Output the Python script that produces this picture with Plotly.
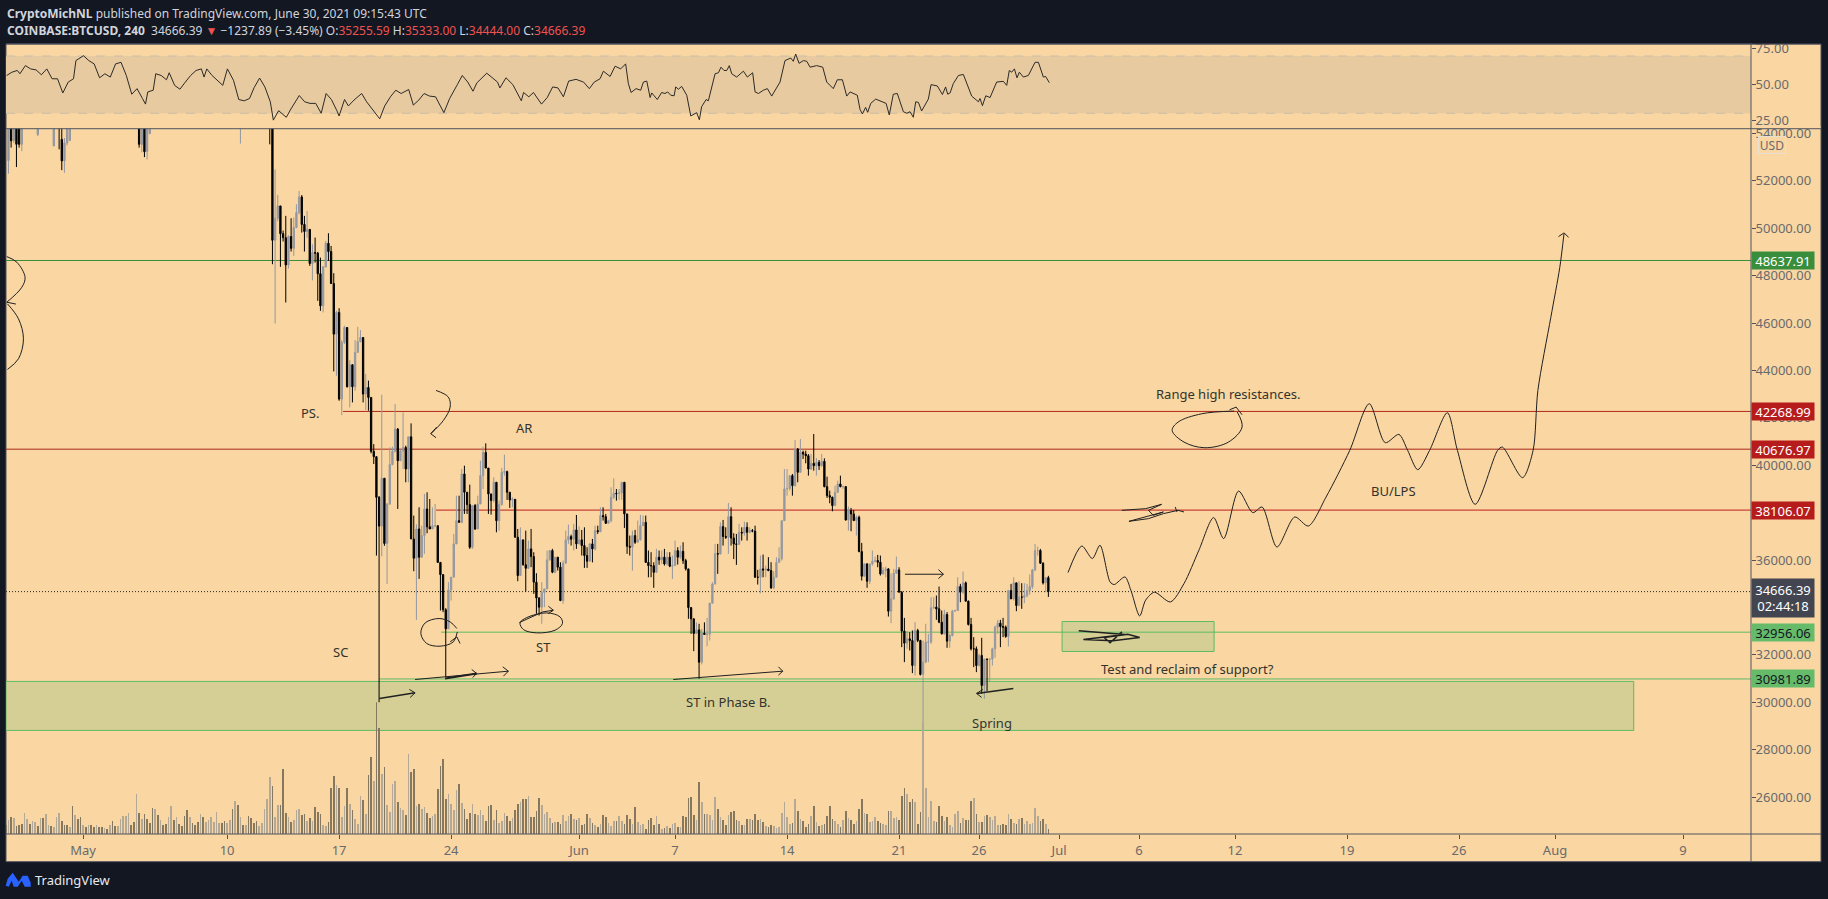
import pandas as pd
import plotly.graph_objects as go

START = pd.Timestamp("2021-05-01")
LAST_BAR = pd.Timestamp("2021-06-30 08:00")

# candles that poke below the top of the price pane before the 13 May drop
early_index = [0, 1, 2, 3, 4, 5, 11, 17, 19, 20, 21, 22, 23, 49, 50, 51, 52, 53, 87, 98]
early_open = [52850, 54600, 53700, 54800, 54800, 53540, 53950, 53470, 54800, 53750, 52840, 53600, 53700,
              55200, 53540, 54800, 53230, 54000, 54400, 56000]
early_high = [54900, 54800, 55000, 55100, 55000, 55000, 54700, 55000, 55000, 54300, 53800, 54500, 55000,
              55500, 55000, 55000, 55000, 55200, 55200, 56300]
early_low = [52300, 53400, 53600, 52580, 53400, 53250, 53890, 53470, 53330, 52450, 52340, 53500, 53700,
             53400, 53200, 53000, 52900, 53960, 53570, 53540]
early_close = [54600, 53690, 54800, 53540, 53540, 54800, 54500, 54800, 54300, 52840, 53600, 54300, 54900,
               53540, 54800, 53230, 54800, 55000, 55000, 55000]

# 4h bars from 13 May to the last bar, open is the previous close
first_open = 56000
close = [
    49490, 50420, 50940, 49770, 49600, 48450, 49650, 49150, 50030, 50660, 51320, 50160, 49860, 49950, 48510, 48970,
    48950, 48080, 46725, 48370, 49365, 49015, 47665, 45530, 46445, 42790, 45180, 45810, 43310, 44240, 43310, 44760,
    45220, 45390, 43000, 43280, 42860, 40585, 40360, 38645, 37430, 39450, 36700, 38360, 40025, 40585, 41525, 40190,
    40600, 40750, 39840, 41200, 36890, 36075, 37310, 36120, 37030, 38155, 37400, 37310, 37450, 37450, 35900, 35385,
    33900, 33095, 34740, 35275, 36680, 37660, 37590, 39630, 38860, 38340, 36540, 38300, 37310, 38365, 39560, 40540,
    39880, 38790, 38510, 39280, 37660, 38340, 39700, 39730, 38860, 38530, 38560, 36960, 35345, 36850, 35800, 35650,
    36470, 36145, 35064, 34400, 34010, 34640, 34780, 36005, 36400, 35485, 36120, 35700, 34290, 35865, 36850, 36990,
    36880, 37270, 36680, 36850, 36610, 36190, 35950, 36680, 36470, 37240, 37200, 37875, 37830, 37550, 37660, 38645,
    38815, 38800, 38830, 39280, 37945, 36580, 36540, 37030, 36750, 36850, 37450, 37590, 35900, 35765, 35760, 35480,
    36120, 36000, 36120, 35836, 36120, 35740, 35765, 36400, 36120, 36370, 35975, 35625, 33994, 33520, 32900, 33054,
    31690, 32914, 32860, 32870, 34180, 34990, 36270, 36250, 37410, 36990, 36960, 37830, 36930, 36680, 36660, 37170,
    37140, 37380, 37170, 37240, 37220, 35275, 35270, 35625, 35580, 35620, 35555, 34825, 35275, 35900, 36050, 37660,
    39000, 39020, 39560, 39140, 40680, 39700, 40545, 40470, 40400, 39840, 40080, 39980, 40120, 39980, 40164, 39096,
    38717, 38650, 38295, 38857, 39208, 39096, 39100, 37691, 38085, 37945, 37663, 37803, 36356, 35317, 35836, 35106,
    35836, 35949, 35977, 35906, 35415, 35556, 35626, 33841, 34360, 35443, 35584, 34642, 33000, 32493, 32675, 32605,
    31551, 33027, 32605, 31172, 31692, 32535, 32540, 33982, 34010, 33940, 33378, 32886, 33700, 32577, 32816, 33841,
    33870, 34881, 34642, 35036, 34263, 33279, 32254, 32254, 31551, 31973, 30708, 31818, 31810, 31820, 32254, 33167,
    33336, 33195, 33167, 32774, 34712, 34360, 35036, 34080, 34432, 34430, 34500, 34712, 34881, 35584, 36398, 36400,
    35865, 35036, 35255.59, 34666.39,
]
high = [
    56300, 52485, 51403, 50940, 49900, 50520, 49700, 50420, 50450, 51010, 51570, 51400, 50520, 50730, 49885, 49320,
    49605, 49000, 48760, 48400, 49465, 49788, 49250, 48100, 46515, 46625, 45280, 45880, 45810, 44430, 44240, 45280,
    45840, 45700, 45390, 43845, 43570, 42860, 40890, 40360, 38700, 42974, 39450, 38400, 40750, 40780, 42580, 41570,
    40650, 42230, 40825, 41200, 41766, 37874, 37500, 38225, 37450, 38788, 38857, 38575, 38225, 38365, 37450, 35900,
    35385, 33970, 35064, 35275, 37100, 38715, 38715, 39840, 39980, 38860, 39180, 38300, 38365, 38715, 40190, 40780,
    40923, 39880, 38790, 39490, 39280, 38505, 39885, 40445, 39770, 38860, 38650, 38530, 37310, 37380, 36850, 37240,
    36820, 37311, 36330, 35443, 34430, 35064, 34780, 36400, 36400, 36470, 36120, 36120, 35907, 35977, 37240, 37494,
    37070, 37522, 37900, 37424, 37270, 37380, 36540, 36710, 36890, 37450, 37450, 38225, 38225, 37945, 37700, 39068,
    39447, 38995, 38995, 39280, 39280, 37945, 37030, 37240, 37270, 37664, 37900, 37875, 37875, 36400, 36330, 35907,
    36470, 36400, 36400, 36470, 36330, 36330, 36190, 36820, 36540, 36610, 36750, 36050, 35625, 33994, 33520, 33370,
    33310, 33095, 33370, 33560, 34180, 35064, 36680, 36680, 37590, 37690, 37380, 38407, 38225, 37130, 37100, 37525,
    37380, 37620, 37590, 37380, 37310, 37450, 35585, 36190, 36230, 35765, 36120, 35907, 35528, 36120, 36540, 37660,
    39840, 39840, 39560, 39630, 41063, 40726, 41105, 40613, 40613, 40470, 40473, 41316, 40304, 40220, 40473, 40290,
    39518, 38927, 38675, 39138, 39349, 39560, 39138, 39096, 38253, 38197, 38113, 37874, 37874, 36722, 35864, 35864,
    35836, 36398, 36146, 36216, 36188, 35696, 35724, 35654, 35443, 35626, 36146, 35696, 34684, 33560, 33000, 32956,
    33027, 33378, 33097, 32633, 32605, 33308, 32886, 34431, 34431, 34501, 34881, 33870, 33898, 33800, 32886, 33898,
    33898, 35275, 34994, 35513, 35092, 34291, 33560, 32745, 32352, 32043, 32717, 31832, 31832, 31832, 32296, 33237,
    33476, 33476, 33560, 33237, 34740, 34993, 35275, 35036, 35106, 35022, 35022, 34994, 35387, 35626, 36680, 36567,
    36469, 35907, 35274, 35333,
]
low = [
    48480, 45980, 50300, 48370, 49440, 46865, 48300, 49015, 48830, 50000, 50590, 49815, 49015, 49600, 48410, 47800,
    48550, 46935, 46514, 46450, 48340, 48620, 47665, 43957, 43774, 42720, 42116, 45110, 43280, 42440, 42650, 43140,
    44760, 45180, 42650, 42330, 42300, 40500, 40050, 36187, 30000, 36160, 36600, 34990, 38340, 40000, 40540, 38155,
    40190, 39840, 39280, 39280, 36890, 35527, 33476, 35204, 36100, 36258, 37130, 37310, 37310, 37380, 35900, 33870,
    33800, 31060, 33095, 34290, 35275, 36680, 37590, 37550, 37945, 37945, 36470, 36470, 37270, 37310, 38365, 38995,
    39880, 37945, 37915, 38435, 37170, 37240, 38295, 39560, 38535, 38200, 38225, 36960, 35106, 35345, 35765, 34670,
    35625, 35700, 34572, 33730, 33660, 33310, 34010, 34780, 35977, 35443, 35443, 35555, 34263, 34150, 35865, 36680,
    36610, 36400, 36470, 36680, 36190, 35668, 35668, 35950, 35900, 36400, 37100, 37170, 37664, 37522, 37550, 37590,
    38575, 38505, 38535, 38535, 37354, 36258, 36188, 35555, 36680, 36750, 36820, 37450, 35900, 35270, 35274, 34825,
    35485, 35800, 35836, 35765, 35765, 35700, 35200, 35765, 35808, 36050, 35836, 35555, 33520, 32884, 32155, 32880,
    30990, 31595, 32860, 32366, 32605, 34150, 34965, 35415, 36250, 36610, 36890, 36258, 36610, 36040, 35795, 36660,
    36820, 37030, 36820, 37130, 37170, 35245, 34965, 34600, 35270, 35275, 35527, 34783, 34783, 35275, 35900, 35977,
    37660, 38715, 38927, 38715, 39096, 39280, 39700, 40262, 40080, 39560, 39800, 39770, 39560, 39800, 39940, 39068,
    38618, 38393, 38056, 38295, 38857, 39068, 38998, 37663, 37241, 37214, 37663, 37031, 36328, 35134, 35302, 34825,
    34994, 35766, 35906, 35696, 35345, 35387, 35275, 33616, 33336, 34319, 35415, 34642, 32324, 31692, 32254, 32183,
    31228, 31130, 32535, 31130, 29100, 31650, 31692, 32465, 33940, 33476, 33336, 32858, 32858, 32296, 32296, 32774,
    33841, 33870, 34220, 34572, 34263, 33237, 32183, 31481, 31270, 31509, 30357, 30146, 30469, 30891, 31551, 31874,
    32886, 32324, 32745, 32717, 32352, 34360, 34290, 33841, 34080, 33940, 34178, 34431, 34544, 34783, 35528, 36187,
    35837, 34965, 34642, 34444,
]

volume = [
    9, 14, 17, 16, 8, 9, 10, 21, 15, 10, 13, 12, 8, 16, 16, 20, 9, 8, 7, 17, 21, 13, 9, 9, 7, 28, 19, 15, 17, 9,
    7, 9, 9, 7, 9, 7, 7, 6, 5, 9, 13, 8, 8, 15, 18, 18, 21, 9, 12, 40, 21, 15, 20, 15, 11, 26, 25, 19, 14, 9,
    10, 17, 28, 14, 17, 10, 8, 18, 24, 17, 11, 9, 12, 20, 17, 12, 14, 17, 12, 22, 11, 11, 13, 11, 14, 25, 33, 29,
    17, 9, 9, 18, 16, 11, 13, 8, 11, 25, 35, 57, 48, 17, 29, 29, 65, 21, 17, 12, 14, 24, 25, 19, 20, 13, 16, 13,
    27, 22, 20, 9, 8, 12, 46, 58, 49, 46, 17, 28, 46, 30, 24, 15, 10, 38, 34, 20, 59, 77, 53, 132, 106, 60, 67, 29,
    22, 50, 53, 32, 26, 24, 19, 80, 62, 65, 28, 30, 25, 27, 21, 16, 18, 20, 45, 68, 75, 35, 40, 30, 24, 44, 50, 31,
    25, 15, 21, 30, 20, 19, 24, 19, 13, 28, 29, 14, 24, 11, 13, 21, 18, 13, 16, 24, 30,
    32, 35, 35, 38, 17, 17, 23, 36, 29, 20, 22, 16, 11, 12, 12, 10, 19, 13, 18, 20, 15, 14, 16, 9, 10, 20, 16, 11,
    9, 7, 10, 19, 17, 11, 8, 13, 13, 18, 13, 10, 19, 15, 10, 27, 12, 9, 10, 5, 14, 16, 9, 18, 10, 5, 6, 8, 6, 10,
    11, 7, 7, 18, 17, 36, 37, 19, 14, 52, 32, 20, 20, 19, 14, 37, 25, 17, 14, 9, 19, 22, 23, 14, 13, 9, 9, 15, 15,
    14, 20, 14, 15, 12, 8, 7, 9, 8, 6, 7, 21, 32, 17, 10, 11, 35, 23, 15, 13, 7, 10, 18, 28, 12, 8, 9, 10, 18, 28,
    15, 13, 10, 7, 14, 23, 16, 14, 10, 13, 25, 35, 21, 20, 12, 13, 17, 13, 11, 10, 9, 23, 23, 16, 17, 14, 38, 46,
    40, 32, 35, 32, 10, 22, 112, 46, 17, 33, 13, 12, 28, 18, 13, 17, 9, 7, 20, 23, 11, 16, 14, 14, 33, 36, 20, 12,
    12, 18, 19, 17, 14, 18, 9, 9, 10, 9, 20, 15, 11, 10, 15, 16, 10, 13, 10, 11, 26, 18, 13, 15, 10, 5,
]
early_volume_kind = (
    "dgdgdddggdggdgdggdgggdddgdgddgdgddgddgdgddggggg"
    "ddgdgddddgdgddggdgddddgdddgdggggggddggdgdgdgddddggg"
)
volume_dark_extra = [343]
volume_gray_extra = [138]

# RSI line, days after 1 May and value
rsi_day = [
    -4.78, -4.45, -4.11, -3.95, -3.61, -3.28, -2.94, -2.61, -2.27, -1.94, -1.60, -1.27, -0.93, -0.60, -0.45, 0.02,
    0.36, 0.69, 1.03, 1.36, 1.70, 2.03, 2.37, 2.70, 3.04, 3.37, 3.71, 3.90, 4.04, 4.38, 4.54, 4.88, 5.21, 5.38,
    5.72, 6.05, 6.39, 6.72, 7.06, 7.39, 7.56, 7.73, 8.06, 8.40, 8.73, 9.02, 9.40, 9.73, 10.07, 10.40, 10.69, 11.03,
    11.36, 11.70, 11.89, 12.22, 12.70, 12.99, 13.51, 13.85, 14.18, 14.54, 14.88, 15.19, 15.52, 15.86, 16.0, 16.34,
    16.58, 16.93, 17.41, 17.72, 18.13, 18.54, 18.85, 19.21, 19.54, 19.88, 20.35, 20.64, 20.98, 21.31, 21.65, 22.03,
    22.55, 22.91, 23.39, 23.70, 24.04, 24.37, 24.61, 25.23, 25.90, 26.05, 26.43, 26.86, 27.39, 27.53, 27.86, 28.15,
    28.65, 29.01, 29.35, 29.68, 30.02, 30.35, 30.81, 31.28, 31.64, 31.95, 32.31, 32.52, 32.94, 33.25, 33.6, 33.91,
    34.08, 34.25, 34.56, 34.85, 35.02, 35.23, 35.44, 35.54, 35.89, 36.16, 36.37, 36.54, 36.73, 36.94, 37.04, 37.21,
    37.41, 37.73, 37.98, 38.35, 38.52, 38.66, 38.94, 39.08, 39.5, 39.71, 39.87, 40.06, 40.23, 40.39, 40.54, 40.85,
    41.27, 41.52, 41.85, 42.0, 42.21, 42.52, 42.77, 43.04, 43.56, 43.87, 44.23, 44.39, 44.54, 44.75, 45.02, 45.23,
    45.44, 45.85, 46.23, 46.48, 46.89, 47.14, 47.46, 47.73, 47.94, 48.39, 48.56, 48.71, 48.91, 49.04, 49.23, 49.54,
    50.19, 50.39, 50.64, 50.89, 51.27, 51.48, 51.69, 51.89, 52.04, 52.21, 52.41, 52.83, 53.0, 53.39, 53.71, 53.91,
    54.04, 54.19, 54.39, 54.71, 55.02, 55.54, 55.96, 56.06, 56.21, 56.42, 56.69, 57.1, 57.52, 57.73, 57.89, 58.04,
    58.21, 58.37, 58.52, 58.77, 59.08, 59.5, 59.71, 60.02, 60.16, 60.39,
]
rsi_value = [
    56.4, 58.7, 59.9, 57.6, 63.3, 61.0, 60.3, 56.9, 61.0, 54.1, 54.1, 44.2, 51.8, 54.1, 66.8, 70.2,
    66.8, 64.5, 54.8, 57.6, 55.3, 64.5, 65.6, 56.4, 43.3, 47.2, 40.3, 36.4, 44.9, 46.1, 57.6, 56.4, 53.4, 58.3,
    49.5, 46.8, 51.8, 56.4, 59.9, 61.0, 55.3, 61.0, 56.4, 53.0, 49.5, 61.0, 53.0, 39.6, 38.7, 40.3, 47.9, 54.6,
    48.4, 38.0, 25.2, 31.8, 27.2, 33.0, 42.4, 38.0, 36.9, 36.9, 30.0, 43.8, 39.6, 31.8, 28.1, 39.6,
    35.1, 39.2, 43.8, 38.0, 32.3, 26.1, 35.1, 41.5, 46.1, 43.8, 46.6, 35.7, 39.2, 43.8, 42.0, 41.5,
    30.4, 40.3, 50.0, 56.4, 51.8, 45.4, 51.2, 58.0, 51.8, 47.7, 54.8, 50.0, 38.7, 44.5, 41.5, 44.5,
    36.4, 41.0, 48.4, 47.7, 41.5, 52.5, 53.7, 51.8, 47.2, 51.8, 54.1, 59.4, 55.7, 62.9, 61.0, 64.5,
    50.7, 44.5, 47.2, 46.1, 51.8, 52.5, 41.0, 44.2, 39.6, 44.5, 43.8, 44.9, 42.6, 42.2, 48.4, 46.8,
    48.8, 42.6, 28.1, 30.4, 25.4, 34.6, 39.6, 38.7, 57.6, 58.3, 62.2, 59.9, 59.9, 63.3, 57.6, 55.3,
    59.4, 55.3, 58.3, 44.9, 43.8, 46.1, 47.2, 42.0, 51.8, 66.8, 68.6, 66.3, 71.4, 64.9, 66.8, 66.3,
    62.2, 63.3, 62.2, 51.8, 47.2, 53.4, 53.4, 42.0, 44.9, 42.6, 32.7, 29.5, 34.1, 30.7, 36.9, 39.9,
    36.9, 28.8, 43.3, 43.8, 31.1, 30.0, 31.1, 27.2, 38.0, 37.6, 31.6, 39.9, 50.0, 49.1, 43.1, 48.4,
    43.3, 44.2, 50.7, 56.4, 57.1, 42.0, 38.0, 40.3, 35.3, 42.2, 41.0, 51.8, 52.3, 49.5, 59.9, 58.7,
    61.0, 54.8, 58.7, 55.3, 56.4, 65.6, 65.6, 55.3, 55.7, 51.4,
]

# projected path drawn by hand, days after 1 May and price
proj_day = [61.56, 62.42, 63.08, 63.56, 64.19, 64.45, 65.12, 65.49, 66.04, 66.41, 66.96, 67.96, 68.81, 69.74, 70.66,
            71.29, 72.22, 73.11, 73.69, 74.62, 75.73, 76.58, 77.69, 79.17, 80.39, 81.39, 82.24, 82.79, 83.42, 84.16,
            85.27, 85.9, 87.01, 88.41, 88.71, 89.97, 90.63, 90.93, 91.74, 92.3, 92.56]
proj_price = [35471, 36592, 36061, 36622, 35075, 34965, 35286, 34725, 33642, 34304, 34641, 34232, 35007, 36411, 37789,
              36904, 38910, 38000, 38236, 36550, 37815, 37435, 38658, 40626, 42594, 40951, 41300, 40626, 39812, 40626,
              42215, 40626, 38350, 40626, 40765, 39475, 40626, 43155, 46245, 48352, 49760]

# other hand drawn strokes: (days, prices, smoothed, width)
strokes = [
    ([92.22, 92.56, 92.85], [49646, 49802, 49617], False, 1),
    ([-4.77, -4.14, -3.63, -3.83, -4.77], [48803, 48563, 47931, 47509, 46877], True, 1),
    ([-4.73, -4.04, -3.73, -4.04, -4.73], [46809, 46177, 45334, 44491, 44040], True, 1),
    ([-4.77, -4.2], [46877, 46800], False, 1),
    ([22.06, 22.83, 22.94, 22.52, 21.73], [43155, 42873, 42451, 41891, 41330], True, 1),
    ([22.1, 21.73, 22.06], [41608, 41330, 41161], False, 1),
    ([23.36, 22.94, 22.25, 21.38, 21.11, 21.48, 22.31, 23.14, 23.39], [33111, 33389, 33532, 33347, 32900, 32478, 32365, 32546, 32967], True, 1),
    ([22.94, 23.36, 23.56], [32546, 32757, 32478], False, 1),
    ([20.75, 26.58], [30959, 31310], False, 1),
    ([26.23, 26.58, 26.27], [31493, 31310, 31100], False, 1),
    ([22.62, 24.6], [31001, 31212], False, 2),
    ([24.29, 24.6, 24.35], [31381, 31212, 31043], False, 1),
    ([36.89, 43.73], [30959, 31310], False, 1),
    ([43.46, 43.73, 43.46], [31493, 31310, 31142], False, 1),
    ([18.52, 20.75], [30158, 30397], False, 1.5),
    ([20.39, 20.75, 20.44], [30538, 30397, 30200], False, 1),
    ([27.31, 27.73, 28.98, 29.81, 29.96, 29.5, 28.35, 27.52, 27.31], [33348, 33572, 33769, 33600, 33320, 33039, 32926, 33067, 33348], True, 1),
    ([27.27, 28.73, 29.39], [33362, 33811, 33881], False, 1),
    ([29.08, 29.39, 29.08], [34050, 33881, 33741], False, 1),
    ([51.37, 53.77], [35400, 35400], False, 1),
    ([53.46, 53.77, 53.46], [35597, 35400, 35217], False, 1),
    ([58.14, 55.85], [30581, 30370], False, 1.5),
    ([56.23, 55.85, 56.16], [30539, 30370, 30202], False, 1),
    ([64.93, 66.41, 67.41, 66.59, 66.89, 67.52, 65.37, 66.59, 67.52, 68.44, 68.81], [38097, 38167, 38350, 38097, 37886, 38027, 37633, 37746, 37957, 38097, 38027], False, 1),
    ([68.26, 68.37], [38238, 38027], False, 1),
    ([62.23, 64.0, 65.11, 62.52, 64.37, 66.04, 65.3, 63.82, 64.19, 64.93], [33011, 32927, 32856, 32646, 32590, 32730, 32870, 32730, 32505, 32969], False, 1.5),
    ([71.95, 69.92, 68.44, 68.07, 68.81, 70.11, 71.59, 72.44, 72.14], [42284, 42171, 41820, 41468, 40977, 40738, 40977, 41609, 42242], True, 1),
    ([71.66, 72.07, 72.44], [42340, 42452, 42129], False, 1),
]

# horizontal levels: price, first day, colour
level_price = [48637.91, 42268.99, 40676.97, 38106.07, 32956.06, 30981.89]
level_start = [-4.82, 16.25, -4.82, 22.06, 22.38, 18.52]
level_color = ["#388e3c", "#b22a1c", "#a8281c", "#c11f1f", "#5dbb63", "#5dbb63"]
level_text = ["48637.91", "42268.99", "40676.97", "38106.07", "32956.06", "30981.89"]
tag_color = ["#388e3c", "#b71c1c", "#b71c1c", "#b71c1c", "#66bb6a", "#66bb6a"]
tag_font = ["white", "white", "white", "white", "#131722", "#131722"]
last_price = 34666.39

# zones: first day, last day, top, bottom
zone_box = [(-4.82, 96.92, 30877, 28810), (61.19, 70.69, 33406, 32141)]

note_text = ["PS.", "AR", "SC", "ST", "ST in Phase B.", "Range high resistances.", "BU/LPS",
             "Test and reclaim of support?", "Spring"]
note_day = [14.22, 27.53, 16.09, 28.75, 40.31, 71.53, 81.88, 69.0, 56.78]
note_price = [42186, 41553, 32112, 32335, 30017, 42986, 38898, 31395, 29132]

price_ticks = [26000, 28000, 30000, 32000, 36000, 38000, 40000, 42000, 44000, 46000, 48000, 50000, 52000, 54000]
rsi_ticks = [25, 50, 75]
time_tick_dates = ["2021-05-01", "2021-05-10", "2021-05-17", "2021-05-24", "2021-06-01", "2021-06-07", "2021-06-14",
                   "2021-06-21", "2021-06-26", "2021-07-01", "2021-07-06", "2021-07-12", "2021-07-19", "2021-07-26",
                   "2021-08-01", "2021-08-09"]
time_tick_text = ["May", "10", "17", "24", "Jun", "7", "14", "21", "26", "Jul", "6", "12", "19", "26", "Aug", "9"]

DARK = "#131722"
TAN = "#f9d6a2"
EDGE = "#50535e"
AXIS_TEXT = "#6a6a6c"
INK = "#202020"
FONT = "Noto Sans"

PLOT_L, PLOT_R, PLOT_T, PLOT_B = 6.3, 1751.0, 43.5, 834.3
SPLIT = 128.3


def day(d):
    return START + pd.to_timedelta(d, unit="D")


def days(values):
    return [day(v) for v in values]


def fx(px):
    return (px - PLOT_L) / (PLOT_R - PLOT_L)


def fy(py):
    return (PLOT_B - py) / (PLOT_B - PLOT_T)


bar_times = pd.date_range(end=LAST_BAR, periods=391, freq="4h")
main_times = pd.date_range(end=LAST_BAR, periods=len(close), freq="4h")
opens = [first_open] + close[:-1]

fig = go.Figure()

# volume sits in the same pane on its own hidden scale
vol_times = pd.date_range(end=LAST_BAR, periods=len(volume), freq="4h")
offset = len(volume) - len(close)
vol_colors = []
for i in range(len(volume)):
    j = i - offset
    if i < len(early_volume_kind) and j < 0:
        down = early_volume_kind[i] == "d"
    elif j >= 0:
        down = close[j] < opens[j]
    else:
        down = False
    if i in volume_dark_extra:
        down = True
    if i in volume_gray_extra:
        down = False
    vol_colors.append("#86775f" if down else "#b3a996")
fig.add_trace(go.Bar(x=vol_times, y=volume, marker=dict(color=vol_colors, line=dict(width=0)),
                     width=3600000, yaxis="y3", hoverinfo="skip"))

gray = "#9598a1"
black = "#000000"
fig.add_trace(go.Candlestick(
    x=list(bar_times[early_index]) + list(main_times),
    open=early_open + opens,
    high=early_high + high,
    low=early_low + low,
    close=early_close + close,
    increasing=dict(line=dict(color=gray, width=1), fillcolor=gray),
    decreasing=dict(line=dict(color=black, width=1), fillcolor=black),
    yaxis="y",
))

fig.add_trace(go.Scatter(x=days(rsi_day), y=rsi_value, mode="lines", yaxis="y2",
                         line=dict(color="#2b2a26", width=1)))

fig.add_trace(go.Scatter(x=days(proj_day), y=proj_price, mode="lines", yaxis="y",
                         line=dict(color=INK, width=1, shape="spline", smoothing=0.8)))
for s_days, s_prices, smooth, w in strokes:
    line = dict(color=INK, width=w)
    if smooth:
        line.update(shape="spline", smoothing=1)
    fig.add_trace(go.Scatter(x=days(s_days), y=s_prices, mode="lines", yaxis="y", line=line))

shapes = []
# tan panel behind the axes, the plot area only covers the panes
shapes.append(dict(type="rect", xref="paper", yref="paper", x0=0, x1=fx(1821), y0=fy(862), y1=1,
                   fillcolor=TAN, line=dict(color=EDGE, width=1), layer="below"))
shapes.append(dict(type="rect", xref="x", yref="y2", x0=day(-4.82), x1=day(104.25), y0=30, y1=70,
                   fillcolor="#e8caa0", line=dict(width=0), layer="below"))
for level in (30, 70):
    shapes.append(dict(type="line", xref="x", yref="y2", x0=day(-4.82), x1=day(104.25), y0=level, y1=level,
                       line=dict(color="#c9bda9", width=1, dash="dash"), layer="below"))
for d0, d1, top, bottom in zone_box:
    shapes.append(dict(type="rect", xref="x", yref="y", x0=day(d0), x1=day(d1), y0=bottom, y1=top,
                       fillcolor="#d5cf96", line=dict(color="#5dbb63", width=1), layer="below"))
for price, d0, color in zip(level_price, level_start, level_color):
    shapes.append(dict(type="line", xref="x", yref="y", x0=day(d0), x1=day(104.25), y0=price, y1=price,
                       line=dict(color=color, width=1), layer="below"))
shapes.append(dict(type="line", xref="x", yref="y", x0=day(-4.82), x1=day(104.25), y0=last_price, y1=last_price,
                   line=dict(color="#2b2a26", width=1, dash="1px,2px"), layer="below"))
# strip over the clipped top of the 54000 label and the pane separators
shapes.append(dict(type="rect", xref="paper", yref="paper", x0=fx(1752), x1=fx(1820.5), y0=fy(128.3), y1=fy(126),
                   fillcolor=TAN, line=dict(width=0), layer="above"))
shapes.append(dict(type="rect", xref="paper", yref="paper", x0=fx(1752), x1=fx(1821), y0=1, y1=fy(36),
                   fillcolor=DARK, line=dict(width=0), layer="above"))
shapes.append(dict(type="line", xref="paper", yref="paper", x0=0, x1=fx(1821), y0=1, y1=1,
                   line=dict(color=EDGE, width=1), layer="above"))
shapes.append(dict(type="line", xref="paper", yref="paper", x0=0, x1=fx(1821), y0=fy(SPLIT), y1=fy(SPLIT),
                   line=dict(color=EDGE, width=1), layer="above"))
shapes.append(dict(type="line", xref="paper", yref="paper", x0=0, x1=fx(1821), y0=0, y1=0,
                   line=dict(color=EDGE, width=1), layer="above"))
shapes.append(dict(type="line", xref="paper", yref="paper", x0=1, x1=1, y0=fy(862), y1=1,
                   line=dict(color=EDGE, width=1), layer="above"))
# TradingView mark
logo = [(6, 886), (8, 879), (13, 873), (19, 882), (23, 876), (28, 876), (31, 883), (31, 887), (25, 887), (22, 881),
        (18, 887), (14, 887), (12, 881), (9, 887)]
shapes.append(dict(type="path", xref="paper", yref="paper", fillcolor="#2962ff", line=dict(width=0),
                   path="M " + " L ".join(f"{fx(a):.5f} {fy(b):.5f}" for a, b in logo) + " Z"))

annotations = []
for text, d, price in zip(note_text, note_day, note_price):
    annotations.append(dict(text=text, x=day(d), y=price, xref="x", yref="y", showarrow=False,
                            font=dict(family=FONT, size=13, color="#33332d")))
for text, price, bg, fg in zip(level_text, level_price, tag_color, tag_font):
    annotations.append(dict(text=text, x=1, y=price, xref="paper", yref="y", xanchor="left", yanchor="middle",
                            showarrow=False, width=60, height=15, bgcolor=bg, align="center",
                            font=dict(family=FONT, size=13, color=fg)))
annotations.append(dict(text="34666.39<br>02:44:18", x=1, y=last_price, xref="paper", yref="y", xanchor="left",
                        yanchor="middle", yshift=-6, showarrow=False, width=60, height=36, bgcolor="#434651",
                        align="center", font=dict(family=FONT, size=13, color="white")))
annotations.append(dict(text="USD", x=fx(1786), y=fy(145), xref="paper", yref="paper", yanchor="middle",
                        showarrow=False, width=24, height=14, bgcolor=TAN, bordercolor="#e6dfd2", borderwidth=1,
                        font=dict(family=FONT, size=12, color=AXIS_TEXT)))


def red(t):
    return f'<span style="color:#ef5350">{t}</span>'


header_1 = '<b>CryptoMichNL</b> published on TradingView.com, June 30, 2021 09:15:43 UTC'
header_2 = ('<b>COINBASE:BTCUSD, 240</b>&nbsp;&nbsp;34666.39&nbsp;' + red("▼") + '&nbsp;−1237.89 (−3.45%)&nbsp;O:'
            + red("35255.59") + '&nbsp;H:' + red("35333.00") + '&nbsp;L:' + red("34444.00") + '&nbsp;C:'
            + red("34666.39"))
for text, py in ((header_1, 12.7), (header_2, 30)):
    annotations.append(dict(text=text, x=fx(5.5), y=fy(py), xref="paper", yref="paper", xanchor="left",
                            yanchor="middle", showarrow=False, font=dict(family=FONT, size=12, color="#d1d4dc")))
annotations.append(dict(text="TradingView", x=fx(33), y=fy(880.5), xref="paper", yref="paper", xanchor="left",
                        yanchor="middle", showarrow=False, font=dict(family=FONT, size=13, color="#e8e9ee")))

tick_font = dict(family=FONT, size=13, color=AXIS_TEXT)
split_frac = fy(SPLIT)
pane_span = PLOT_B - SPLIT

fig.update_layout(
    width=1828,
    height=899,
    margin=dict(l=PLOT_L, r=1828 - PLOT_R, t=PLOT_T, b=899 - PLOT_B, pad=0),
    paper_bgcolor=DARK,
    plot_bgcolor=TAN,
    showlegend=False,
    hovermode=False,
    shapes=shapes,
    annotations=annotations,
    xaxis=dict(
        range=[day(-4.82), day(104.25)],
        tickmode="array", tickvals=time_tick_dates, ticktext=time_tick_text,
        ticks="outside", ticklen=4, tickcolor=EDGE, tickfont=tick_font,
        showgrid=False, zeroline=False, showline=False,
        rangeslider=dict(visible=False), anchor="y",
    ),
    yaxis=dict(
        domain=[0, split_frac], range=[24440, 54198], side="right", anchor="x",
        tickmode="array", tickvals=price_ticks, ticktext=[f"{t:.2f}" for t in price_ticks],
        ticks="outside", ticklen=4, tickcolor=EDGE, tickfont=tick_font, ticklabelstandoff=-3,
        showgrid=False, zeroline=False, showline=False,
    ),
    yaxis2=dict(
        domain=[split_frac, 1], range=[19.2, 78.4], side="right", anchor="x",
        tickmode="array", tickvals=rsi_ticks, ticktext=[f"{t:.2f}" for t in rsi_ticks],
        ticks="outside", ticklen=4, tickcolor=EDGE, tickfont=tick_font, ticklabelstandoff=-3,
        showgrid=False, zeroline=False, showline=False,
    ),
    yaxis3=dict(domain=[0, split_frac], range=[0, pane_span], overlaying="y", visible=False, anchor="x"),
)

fig.write_html("out.html", config={"displayModeBar": False}, post_script="document.body.style.margin='0'")
